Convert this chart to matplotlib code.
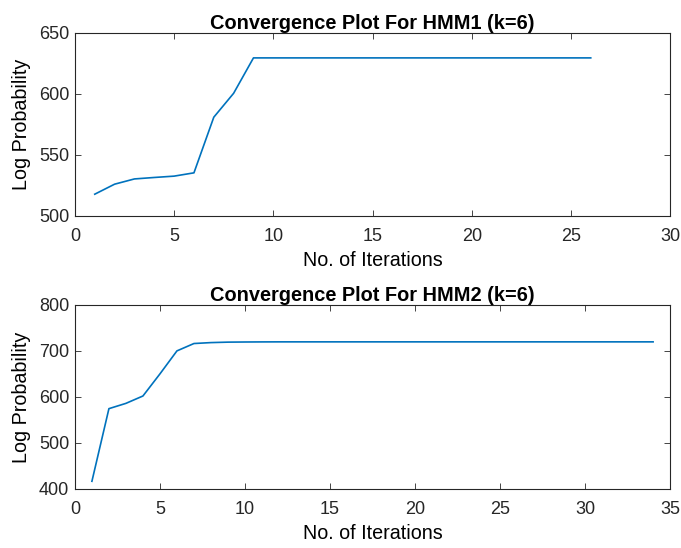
import matplotlib.pyplot as plt

plt.rcParams['font.family'] = ['Liberation Sans', 'DejaVu Sans']

# HMM1 log probability per iteration
iters1 = list(range(1, 27))
logp1 = [517.8, 526.0, 530.3, 531.5, 532.6, 535.3, 580.9, 600.5, 629.5,
         629.5, 629.5, 629.5, 629.5, 629.5, 629.5, 629.5, 629.5, 629.5,
         629.5, 629.5, 629.5, 629.5, 629.5, 629.5, 629.5, 629.5]

# HMM2 log probability per iteration
iters2 = list(range(1, 35))
logp2 = [416.7, 574.5, 586.0, 602.0, 650.0, 700.0, 716.0, 718.0, 719.0,
         719.3, 719.5, 719.6, 719.6, 719.6, 719.6, 719.6, 719.6, 719.6,
         719.6, 719.6, 719.6, 719.6, 719.6, 719.6, 719.6, 719.6, 719.6,
         719.6, 719.6, 719.6, 719.6, 719.6, 719.6, 719.6]

fig = plt.figure(figsize=(6.81, 5.48), dpi=100)
ax1 = fig.add_axes([0.110, 0.606, 0.874, 0.334])
ax2 = fig.add_axes([0.110, 0.1077, 0.874, 0.336])

col = '#0072BD'

def style(ax):
    ax.tick_params(direction='in', length=4.5, width=0.6, colors='#262626',
                   labelsize=13, top=True, right=True)
    ax.tick_params(axis='x', pad=9)
    ax.tick_params(axis='y', pad=4)
    for s in ax.spines.values():
        s.set_linewidth(0.8)
        s.set_color('#262626')

ax1.plot(iters1, logp1, color=col, linewidth=1.2)
ax1.set_xlim(0, 30)
ax1.set_ylim(500, 650)
ax1.set_yticks([500, 550, 600, 650])
ax1.set_xlabel('No. of Iterations', fontsize=14.2, labelpad=4)
ax1.set_ylabel('Log Probability', fontsize=14.2, labelpad=6)
ax1.set_title('Convergence Plot For HMM1 (k=6)', fontsize=14.4, fontweight='bold', pad=3)
style(ax1)

ax2.plot(iters2, logp2, color=col, linewidth=1.2)
ax2.set_xlim(0, 35)
ax2.set_ylim(400, 800)
ax2.set_yticks([400, 500, 600, 700, 800])
ax2.set_xlabel('No. of Iterations', fontsize=14.2, labelpad=4)
ax2.set_ylabel('Log Probability', fontsize=14.2, labelpad=6)
ax2.set_title('Convergence Plot For HMM2 (k=6)', fontsize=14.4, fontweight='bold', pad=3)
style(ax2)

fig.savefig('out.png', dpi=100)
